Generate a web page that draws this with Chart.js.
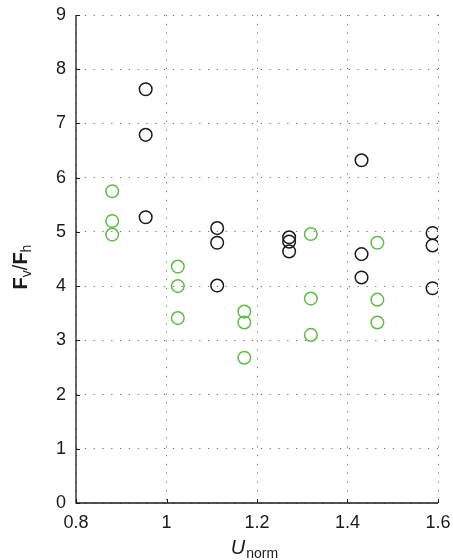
<!DOCTYPE html>
<html>
<head>
<meta charset="utf-8">
<script src="https://cdn.jsdelivr.net/npm/chart.js@4/dist/chart.umd.min.js"></script>
<style>
html,body{margin:0;padding:0;background:#fff;}
#wrap{width:453px;height:560px;position:relative;}
</style>
</head>
<body>
<div id="wrap"><canvas id="c" width="453" height="560"></canvas></div>
<script>
// ---- data ----
const blackX = [0.954, 0.954, 0.954, 1.112, 1.112, 1.112, 1.271, 1.271, 1.271, 1.431, 1.431, 1.431, 1.588, 1.588, 1.588];
const blackY = [7.63, 6.79, 5.27, 5.07, 4.80, 4.01, 4.90, 4.82, 4.64, 6.32, 4.59, 4.16, 4.98, 4.75, 3.96];
const greenX = [0.88, 0.88, 0.88, 1.025, 1.025, 1.025, 1.172, 1.172, 1.172, 1.319, 1.319, 1.319, 1.466, 1.466, 1.466];
const greenY = [5.75, 5.20, 4.95, 4.36, 4.00, 3.41, 3.53, 3.33, 2.68, 4.96, 3.77, 3.10, 4.80, 3.75, 3.33];
const xTickValues = [0.8, 1, 1.2, 1.4, 1.6];
const xTickLabels = ['0.8', '1', '1.2', '1.4', '1.6'];
const yTickValues = [0, 1, 2, 3, 4, 5, 6, 7, 8, 9];
const yTickLabels = ['0', '1', '2', '3', '4', '5', '6', '7', '8', '9'];

const FONT = '"Liberation Sans", Arial, Helvetica, sans-serif';
const TXT = '#1a1a1a';

function pts(xs, ys) { return xs.map((x, i) => ({x: x, y: ys[i]})); }

const axesPlugin = {
  id: 'axesPlugin',
  afterDraw(chart) {
    const ctx = chart.ctx;
    const a = chart.chartArea;
    const xs = chart.scales.x, ys = chart.scales.y;
    ctx.save();
    ctx.strokeStyle = TXT;
    ctx.lineWidth = 1.3;
    ctx.setLineDash([]);
    ctx.beginPath();
    ctx.moveTo(a.left, a.top);
    ctx.lineTo(a.left, a.bottom);
    ctx.lineTo(a.right, a.bottom);
    ctx.stroke();
    ctx.lineWidth = 1;
    ctx.beginPath();
    yTickValues.forEach(v => {
      const py = Math.round(ys.getPixelForValue(v)) + 0.5;
      ctx.moveTo(a.left, py); ctx.lineTo(a.left + 4, py);
    });
    xTickValues.forEach(v => {
      const px = Math.round(xs.getPixelForValue(v)) + 0.5;
      ctx.moveTo(px, a.bottom); ctx.lineTo(px, a.bottom - 4);
    });
    ctx.stroke();

    // x axis title: U (italic) + "norm" subscript
    ctx.fillStyle = TXT;
    ctx.textBaseline = 'alphabetic';
    ctx.textAlign = 'left';
    const f1 = 'italic 20px ' + FONT, f2 = '14px ' + FONT;
    ctx.font = f1; const w1 = ctx.measureText('U').width;
    ctx.font = f2; const w2 = ctx.measureText('norm').width;
    const cx = (a.left + a.right) / 2 - 3;
    let x0 = cx - (w1 + w2) / 2;
    ctx.font = f1; ctx.fillText('U', x0, 554);
    ctx.font = f2; ctx.fillText('norm', x0 + w1 + 1, 558);

    // y axis title: F_v/F_h rotated
    const segs = [
      {t: 'F', f: 'bold 20px ' + FONT, dy: 0},
      {t: 'v', f: '14px ' + FONT, dy: 4},
      {t: '/', f: '20px ' + FONT, dy: 0},
      {t: 'F', f: 'bold 20px ' + FONT, dy: 0},
      {t: 'h', f: '14px ' + FONT, dy: 4}
    ];
    let total = 0;
    segs.forEach(s => { ctx.font = s.f; s.w = ctx.measureText(s.t).width; total += s.w; });
    ctx.translate(27, 267);
    ctx.rotate(-Math.PI / 2);
    let px = -total / 2;
    segs.forEach(s => { ctx.font = s.f; ctx.fillText(s.t, px, s.dy); px += s.w; });
    ctx.restore();
  }
};

new Chart(document.getElementById('c'), {
  type: 'scatter',
  data: {
    datasets: [
      {
        data: pts(blackX, blackY),
        backgroundColor: 'rgba(0,0,0,0)',
        borderColor: '#1a1a1a',
        borderWidth: 1.5,
        pointRadius: 6.3,
        pointHoverRadius: 6.3
      },
      {
        data: pts(greenX, greenY),
        backgroundColor: 'rgba(0,0,0,0)',
        borderColor: '#62bb47',
        borderWidth: 1.5,
        pointRadius: 6.3,
        pointHoverRadius: 6.3
      }
    ]
  },
  options: {
    responsive: false,
    devicePixelRatio: 1,
    animation: false,
    events: [],
    layout: {padding: {top: 15, right: 15, left: 0, bottom: 0}},
    plugins: {legend: {display: false}, tooltip: {enabled: false}},
    scales: {
      x: {
        type: 'linear',
        min: 0.8, max: 1.6,
        afterBuildTicks: s => { s.ticks = xTickValues.map(v => ({value: v})); },
        afterFit: s => { s.height = 57; s.paddingLeft = 0; s.paddingRight = 0; },
        ticks: {
          callback: (v, i) => xTickLabels[i],
          font: {family: FONT, size: 18},
          color: TXT,
          padding: 9,
          maxRotation: 0
        },
        grid: {color: '#6e6e6e', lineWidth: 1, drawTicks: false},
        border: {display: false, dash: [1.2, 7.6]}
      },
      y: {
        type: 'linear',
        min: 0, max: 9,
        afterBuildTicks: s => { s.ticks = yTickValues.map(v => ({value: v})); },
        afterFit: s => { s.width = 76; s.paddingTop = 0; s.paddingBottom = 0; },
        ticks: {
          callback: (v, i) => yTickLabels[i],
          font: {family: FONT, size: 18},
          color: TXT,
          padding: 10
        },
        grid: {color: '#6e6e6e', lineWidth: 1, drawTicks: false},
        border: {display: false, dash: [1.2, 7.6]}
      }
    }
  },
  plugins: [axesPlugin]
});
</script>
</body>
</html>
